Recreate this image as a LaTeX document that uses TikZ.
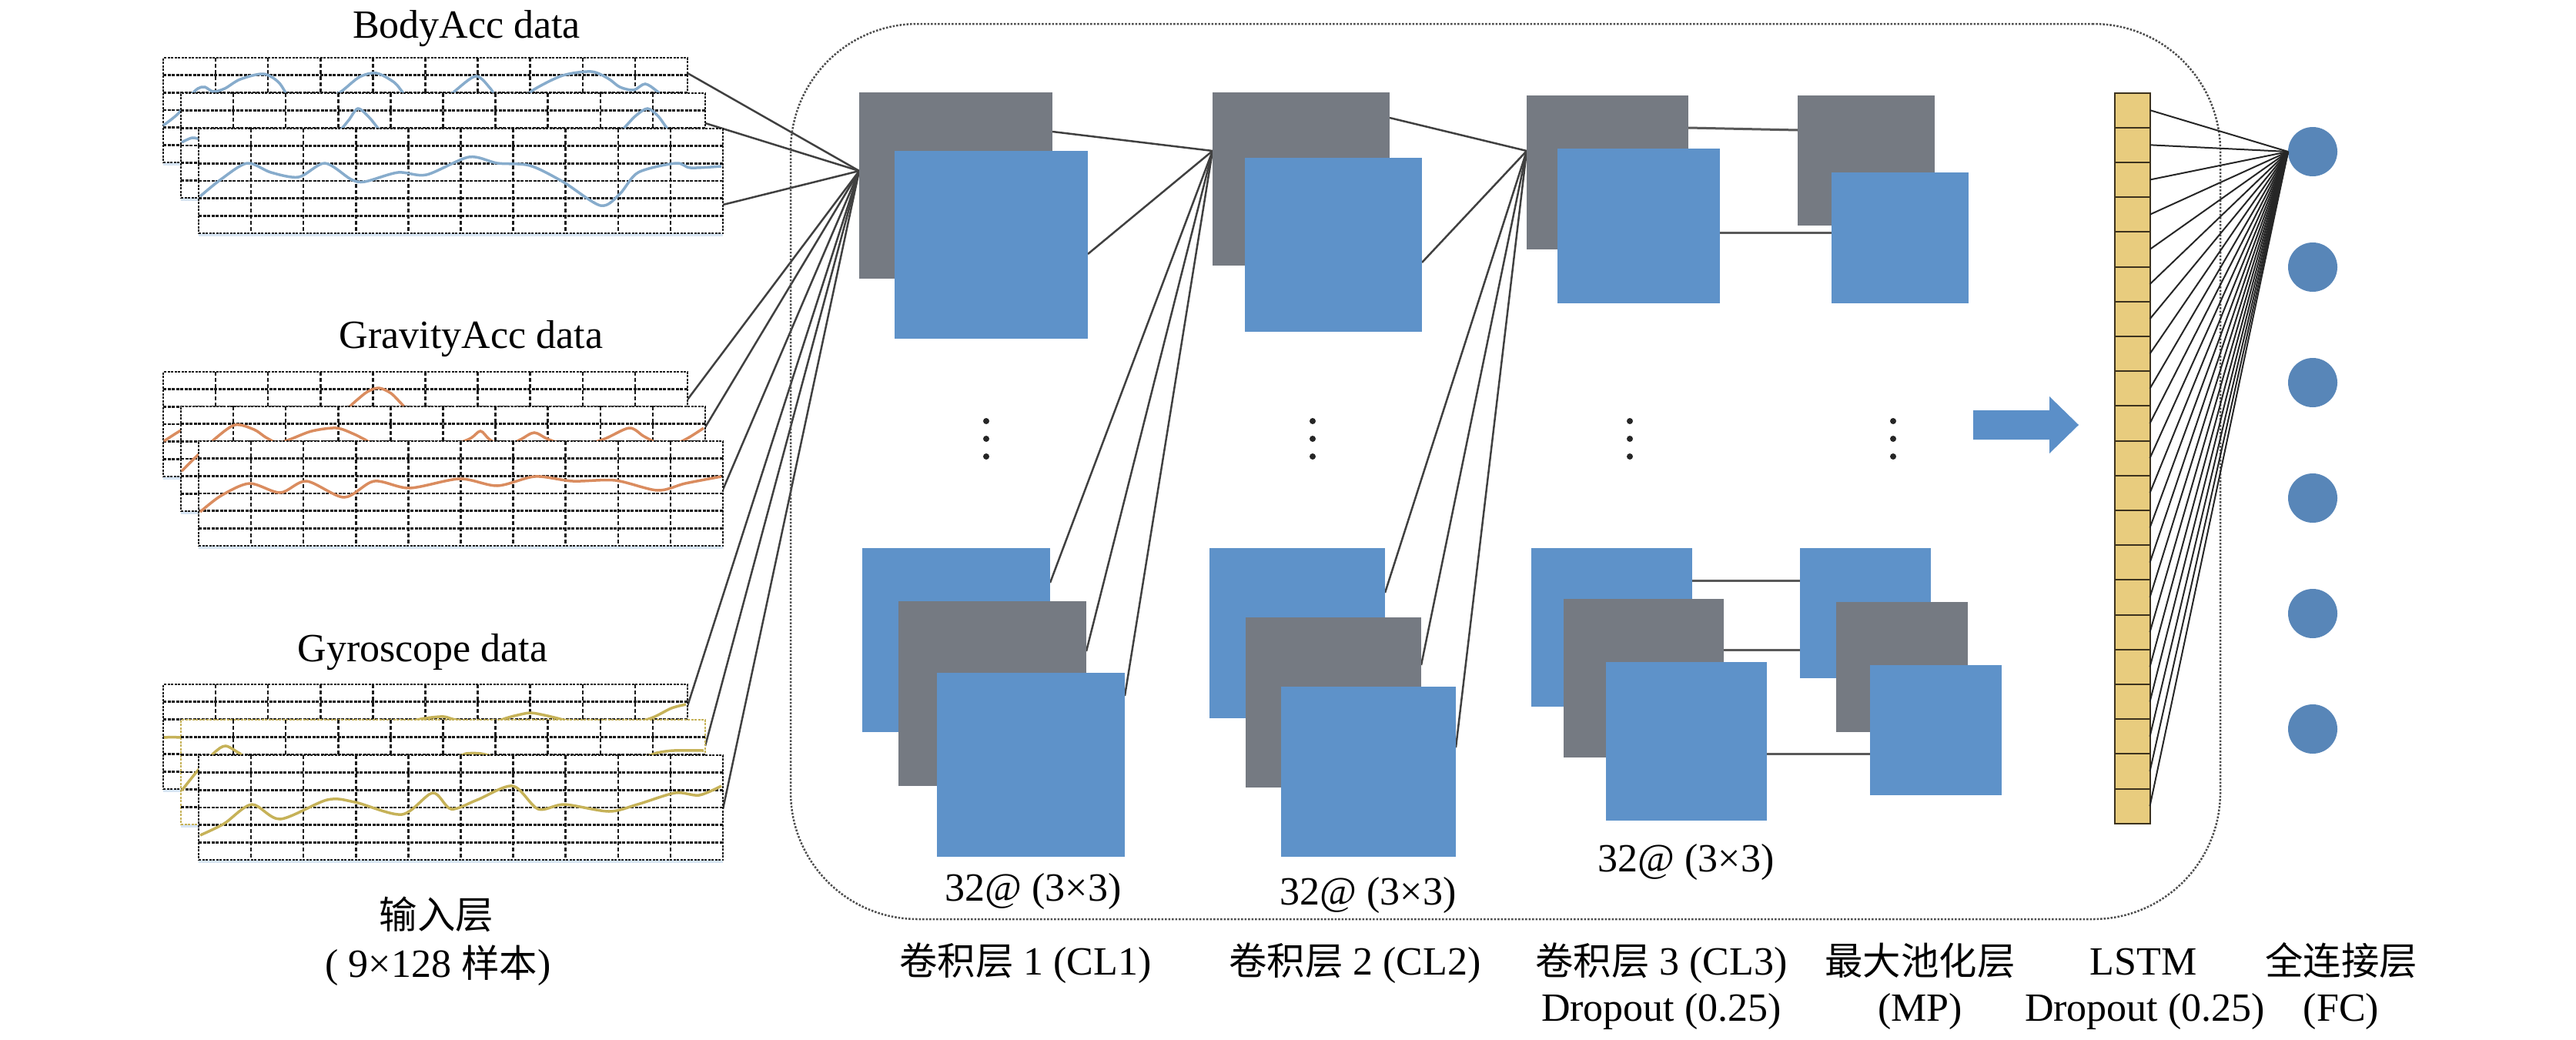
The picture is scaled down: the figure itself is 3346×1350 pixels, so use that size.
\documentclass[tikz,border=0pt]{standalone}
\usepackage{fontspec}
\setmainfont{Liberation Serif}
\newfontfamily\cjk{Noto Sans CJK SC}[Scale=0.95]
\usetikzlibrary{calc,backgrounds,shadows}
\definecolor{blkgray}{RGB}{117,122,130}
\definecolor{blkblue}{RGB}{94,146,201}
\definecolor{fccol}{RGB}{88,134,184}
\definecolor{cellfill}{RGB}{232,204,126}
\definecolor{cellline}{RGB}{60,50,30}
\definecolor{arrowcol}{RGB}{91,143,200}
\definecolor{bodycol}{RGB}{135,172,204}
\definecolor{gravcol}{RGB}{218,140,95}
\definecolor{gyrocol}{RGB}{198,178,88}
\definecolor{shadowcol}{RGB}{205,222,240}
\tikzset{
 panelbox/.style={draw=black!90, fill=white, line width=2.5pt, dash pattern=on 3pt off 1.5pt, minimum width=681pt, minimum height=136pt, anchor=north west, inner sep=0pt, outer sep=0pt, drop shadow={shadow xshift=0pt, shadow yshift=-4pt, fill=shadowcol, opacity=0.8}},
 gridh/.style={draw=black!90, line width=2.5pt, dash pattern=on 4pt off 1.5pt},
 gridv/.style={draw=black!90, line width=2.5pt, dash pattern=on 5pt off 3pt},
 bodyc/.style={draw=bodycol, line width=3.5pt},
 gravc/.style={draw=gravcol, line width=3.5pt},
 gyroc/.style={draw=gyrocol, line width=3.5pt},
 conn/.style={draw=black!75, line width=2.5pt},
 hconn/.style={draw=black!65, line width=3pt},
 lconn/.style={draw=black!85, line width=2pt},
 gblk/.style={fill=blkgray, anchor=north west, inner sep=0pt, outer sep=0pt},
 bblk/.style={fill=blkblue, anchor=north west, inner sep=0pt, outer sep=0pt},
 cell/.style={draw=cellline, fill=cellfill, line width=2pt, minimum width=46pt, minimum height=45.2pt, inner sep=0pt, outer sep=0pt},
 fcn/.style={circle, fill=fccol, minimum size=64pt, inner sep=0pt, outer sep=0pt},
 lbl/.style={font=\fontsize{52}{60}\selectfont, inner sep=0pt, anchor=base},
 dotbox/.style={draw=black!70, line width=2.5pt, dash pattern=on 2.5pt off 2pt, rounded corners=165pt, anchor=north west, inner sep=0pt, outer sep=0pt, minimum width=1857pt, minimum height=1163pt},
 ell/.style={circle, fill=black!85, minimum size=8pt, inner sep=0pt},
}
\newcommand\inpanel[4]{%
  \node[panelbox,draw=#4] (#1) at (#2,#3) {};
  \foreach \k in {1,...,9}{\draw[gridv] ($(#1.north west)+(68.1*\k,0)$) -- ($(#1.south west)+(68.1*\k,0)$);}
  \foreach \k in {1,...,5}{\draw[gridh] ($(#1.north west)+(0,22.67*\k)$) -- ($(#1.north east)+(0,22.67*\k)$);}
}
\begin{document}
\begin{tikzpicture}[x=1pt,y=-1pt]
\useasboundingbox (0,0) rectangle (3346,1350);

% ---------------- input panels ----------------
\inpanel{ba1}{212}{75}{black!90}
\begin{scope}[shift={(ba1.north west)}]
\draw[bodyc] plot[smooth] coordinates {(0,88) (20,72) (35,50) (45,40) (54,38) (65,44) (80,40) (100,28) (130,21) (150,32) (165,55) (180,70) (205,60) (231,44) (255,25) (277,20) (300,32) (312,46) (330,65) (360,60) (378,44) (406,24) (425,40) (440,62) (465,55) (482,41) (519,23) (556,18) (578,27) (593,38) (611,42) (626,34) (642,44) (660,62) (679,70)};
\end{scope}
\inpanel{ba2}{235}{121}{black!90}
\begin{scope}[shift={(ba2.north west)}]
\draw[bodyc] plot[smooth] coordinates {(1,64) (15,58) (30,62) (60,75) (120,80) (180,70) (205,50) (218,35) (230,20) (245,32) (258,48) (275,65) (350,70) (450,72) (540,65) (570,50) (590,30) (606,20) (620,30) (632,46) (650,62) (679,70)};
\end{scope}
\inpanel{ba3}{258}{167}{black!90}
\begin{scope}[shift={(ba3.north west)}]
\draw[bodyc] plot[smooth] coordinates {(2,88) (29,66) (63,45) (94,57) (130,63) (164,45) (198,66) (216,69) (259,57) (296,60) (351,37) (388,45) (430,48) (473,69) (522,100) (547,85) (571,57) (620,45) (639,51) (679,49)};
\end{scope}

\inpanel{ga1}{212}{483}{black!90}
\begin{scope}[shift={(ga1.north west)}]
\draw[gravc] plot[smooth] coordinates {(1,90) (23,76) (40,68) (100,70) (200,62) (235,50) (250,38) (265,26) (280,21) (296,28) (312,44) (330,60) (450,70) (679,65)};
\end{scope}
\inpanel{ga2}{235}{528}{black!90}
\begin{scope}[shift={(ga2.north west)}]
\draw[gravc] plot[smooth] coordinates {(1,84) (21,64) (43,43) (70,24) (95,30) (110,40) (125,47) (141,43) (170,32) (202,28) (225,36) (239,43) (260,52) (330,55) (373,43) (389,32) (401,43) (420,52) (441,43) (459,34) (478,43) (510,52) (548,43) (582,28) (600,38) (609,43) (630,52) (655,43) (679,28)};
\end{scope}
\inpanel{ga3}{258}{573}{black!90}
\begin{scope}[shift={(ga3.north west)}]
\draw[gravc] plot[smooth] coordinates {(2,92) (29,71) (66,55) (106,67) (140,52) (189,73) (228,52) (274,61) (339,49) (388,58) (437,46) (486,52) (541,51) (596,64) (632,55) (679,46)};
\end{scope}

\inpanel{gy1}{212}{889}{black!90}
\begin{scope}[shift={(gy1.north west)}]
\draw[gyroc] plot[smooth] coordinates {(1,69) (23,69) (100,75) (200,60) (300,55) (330,46) (348,43) (365,42) (380,46) (420,52) (445,44) (460,40) (477,37) (495,40) (508,43) (560,55) (610,50) (636,43) (660,31) (679,26)};
\end{scope}
\inpanel{gy2}{235}{935}{gyrocol}
\begin{scope}[shift={(gy2.north west)}]
\draw[gyroc] plot[smooth] coordinates {(1,92) (21,67) (43,43) (58,34) (77,44) (100,55) (250,62) (350,50) (370,44) (390,44) (420,50) (520,58) (600,48) (618,43) (640,40) (679,40)};
\end{scope}
\inpanel{gy3}{258}{981}{black!90}
\begin{scope}[shift={(gy3.north west)}]
\draw[gyroc] plot[smooth] coordinates {(2,104) (33,89) (69,64) (106,83) (167,58) (203,61) (264,77) (304,49) (328,70) (362,58) (408,40) (441,70) (475,64) (533,73) (570,64) (619,49) (650,52) (679,40)};
\end{scope}

% ---------------- frame ----------------
\node[dotbox] (frame) at (1027,31) {};

% ---------------- layer blocks ----------------
% CL1
\node[gblk, minimum width=251pt, minimum height=242pt] (c1g) at (1116,120) {};
\node[bblk, minimum width=251pt, minimum height=244pt] (c1b) at (1162,196) {};
\node[bblk, minimum width=244pt, minimum height=239pt] (c1l1) at (1120,712) {};
\node[gblk, minimum width=244pt, minimum height=240pt] (c1l2) at (1167,781) {};
\node[bblk, minimum width=244pt, minimum height=239pt] (c1l3) at (1217,874) {};
% CL2
\node[gblk, minimum width=230pt, minimum height=225pt] (c2g) at (1575,120) {};
\node[bblk, minimum width=230pt, minimum height=226pt] (c2b) at (1617,205) {};
\node[bblk, minimum width=228pt, minimum height=221pt] (c2l1) at (1571,712) {};
\node[gblk, minimum width=228pt, minimum height=221pt] (c2l2) at (1618,802) {};
\node[bblk, minimum width=227pt, minimum height=221pt] (c2l3) at (1664,892) {};
% CL3
\node[gblk, minimum width=210pt, minimum height=200pt] (c3g) at (1983,124) {};
\node[bblk, minimum width=211pt, minimum height=201pt] (c3b) at (2023,193) {};
\node[bblk, minimum width=209pt, minimum height=206pt] (c3l1) at (1989,712) {};
\node[gblk, minimum width=208pt, minimum height=206pt] (c3l2) at (2031,778) {};
\node[bblk, minimum width=209pt, minimum height=206pt] (c3l3) at (2086,860) {};
% MP
\node[gblk, minimum width=178pt, minimum height=169pt] (mpg) at (2335,124) {};
\node[bblk, minimum width=178pt, minimum height=170pt] (mpb) at (2379,224) {};
\node[bblk, minimum width=170pt, minimum height=169pt] (mpl1) at (2338,712) {};
\node[gblk, minimum width=171pt, minimum height=169pt] (mpl2) at (2385,782) {};
\node[bblk, minimum width=171pt, minimum height=169pt] (mpl3) at (2429,864) {};

\coordinate (p1) at ($(c1g.north west)+(0,102)$);
\coordinate (p2) at ($(c2g.north west)+(0,76)$);
\coordinate (p3) at ($(c3g.north west)+(0,72)$);

\begin{pgfonlayer}{background}
% input -> CL1
\draw[conn] ($(ba1.north east)+(0,20)$) -- (p1);
\draw[conn] ($(ba2.north east)+(0,39)$) -- (p1);
\draw[conn] ($(ba3.north east)+(0,99)$) -- (p1);
\draw[conn] ($(ga1.north east)+(0,36)$) -- (p1);
\draw[conn] ($(ga2.north east)+(0,27)$) -- (p1);
\draw[conn] ($(ga3.north east)+(0,63)$) -- (p1);
\draw[conn] ($(gy1.north east)+(0,28)$) -- (p1);
\draw[conn] ($(gy2.north east)+(0,34)$) -- (p1);
\draw[conn] ($(gy3.north east)+(0,70)$) -- (p1);
% CL1 -> CL2
\draw[conn] ($(c1g.north east)+(0,51)$) -- (p2);
\draw[conn] ($(c1b.north east)+(0,134)$) -- (p2);
\draw[conn] ($(c1l1.north east)+(0,45)$) -- (p2);
\draw[conn] ($(c1l2.north east)+(0,65)$) -- (p2);
\draw[conn] ($(c1l3.north east)+(0,30)$) -- (p2);
% CL2 -> CL3
\draw[conn] ($(c2g.north east)+(0,33)$) -- (p3);
\draw[conn] ($(c2b.north east)+(0,136)$) -- (p3);
\draw[conn] ($(c2l1.north east)+(0,58)$) -- (p3);
\draw[conn] ($(c2l2.north east)+(0,62)$) -- (p3);
\draw[conn] ($(c2l3.north east)+(0,79)$) -- (p3);
% CL3 -> MP
\draw[hconn] ($(c3g.north east)+(0,42)$) -- ($(mpg.north west)+(0,45)$);
\draw[hconn] ($(c3b.north east)+(0,109)$) -- ($(mpb.north west)+(0,78)$);
\draw[hconn] ($(c3l1.north east)+(0,42)$) -- ($(mpl1.north west)+(0,42)$);
\draw[hconn] ($(c3l2.north east)+(0,66)$) -- ($(mpl2.north west)+(0,62)$);
\draw[hconn] ($(c3l3.north east)+(0,119)$) -- ($(mpl3.north west)+(0,115)$);
\end{pgfonlayer}

% vertical ellipses
\foreach \xx/\nm in {1281/da,1705/db,2117/dc,2459/dd}{
  \node[ell] (\nm1) at (\xx,547) {};
  \node[ell] (\nm2) at (\xx,570) {};
  \node[ell] (\nm3) at (\xx,593) {};
}

% arrow to LSTM
\fill[arrowcol] (2563,533) -- (2662,533) -- (2662,515) -- (2700,552) -- (2662,589) -- (2662,571) -- (2563,571) -- cycle;

% FC neurons
\foreach \i/\yy in {1/197,2/347,3/497,4/647,5/797,6/947}{
  \node[fcn] (f\i) at (3004,\yy) {};
}
% LSTM column
\foreach \i in {0,...,20}{
  \node[cell] (l\i) at (2769.5,{143.1+45.2*\i}) {};
}
\foreach \i in {0,...,20}{
  \draw[lconn] (l\i.east) -- (f1.west);
}

% ---------------- labels ----------------
\node[lbl] (tba) at (606,49) {BodyAcc data};
\node[lbl] (tga) at (612,452) {GravityAcc data};
\node[lbl] (tgy) at (549,859) {Gyroscope data};
\node[lbl] (tin1) at (567,1206) {\cjk 输入层};
\node[lbl] (tin2) at (569,1269) {( 9×128 {\cjk 样本})};

\node[lbl] (k1) at (1342,1170) {32@ (3×3)};
\node[lbl] (k2) at (1777,1175) {32@ (3×3)};
\node[lbl] (k3) at (2190,1132) {32@ (3×3)};

\node[lbl] (n1) at (1332,1266) {{\cjk 卷积层} 1 (CL1)};
\node[lbl] (n2) at (1760,1266) {{\cjk 卷积层} 2 (CL2)};
\node[lbl] (n3) at (2158,1266) {{\cjk 卷积层} 3 (CL3)};
\node[lbl] (n3b) at (2158,1326) {Dropout (0.25)};
\node[lbl] (n4) at (2494,1266) {\cjk 最大池化层};
\node[lbl] (n4b) at (2494,1326) {(MP)};
\node[lbl] (n5) at (2784,1266) {LSTM};
\node[lbl] (n5b) at (2786,1326) {Dropout (0.25)};
\node[lbl] (n6) at (3041,1266) {\cjk 全连接层};
\node[lbl] (n6b) at (3041,1326) {(FC)};
\end{tikzpicture}
\end{document}
